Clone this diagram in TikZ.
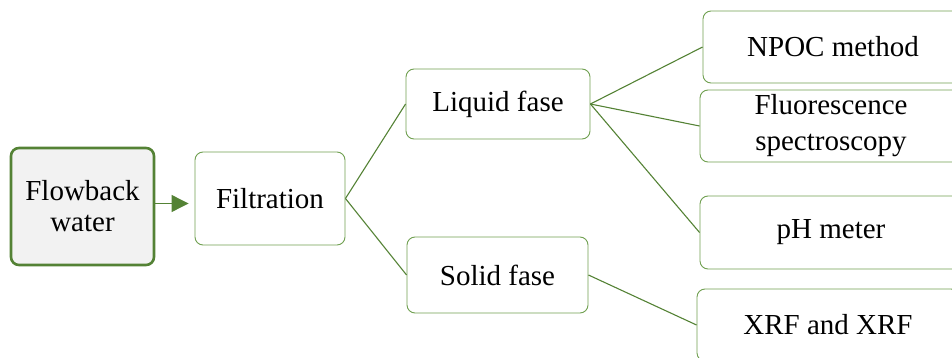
\documentclass[tikz,border=0pt]{standalone}
\usepackage{fontspec}
\setmainfont{Liberation Serif}
\usetikzlibrary{arrows.meta}
\definecolor{gdark}{HTML}{548235}
\definecolor{gbox}{HTML}{70A050}
\definecolor{gfill}{HTML}{F2F2F2}
\begin{document}
\begin{tikzpicture}[x=1pt,y=-1pt,
  box/.style={draw=gbox, line width=0.9pt, rounded corners=8pt, fill=white,
    align=center, inner sep=0pt, font=\rmfamily\fontsize{29}{34}\selectfont},
  startbox/.style={box, draw=gdark, line width=2.6pt, fill=gfill},
  conn/.style={draw=gdark, line width=1.1pt}]
\useasboundingbox (0,0) rectangle (952,358);
\node[startbox, minimum width=143pt, minimum height=117pt, font=\rmfamily\fontsize{29}{31}\selectfont] (flow) at (82.5,206.5) {Flowback\\water};
\node[box, minimum width=150pt, minimum height=93pt] (filt) at (270,198.5) {Filtration};
\node[box, minimum width=184pt, minimum height=70pt] (liq) at (498,104) {Liquid fase};
\node[box, minimum width=181pt, minimum height=76pt] (sol) at (497.5,275) {Solid fase};
\node[box, minimum width=260pt, minimum height=72pt] (npoc) at (833,47) {NPOC method};
\node[box, minimum width=262pt, minimum height=72pt, font=\rmfamily\fontsize{29}{36}\selectfont] (fluo) at (831,126) {Fluorescence\\spectroscopy};
\node[box, minimum width=262pt, minimum height=73pt] (ph) at (831,232.5) {pH meter};
\node[box, minimum width=262pt, minimum height=72pt] (xrf) at (828,325) {XRF and XRF};
\draw[conn, -{Triangle[length=17pt,width=17pt]}] (flow.east) ++(0,-3) coordinate (a) -- ([xshift=-6pt]a -| filt.west);
\draw[conn] (filt.east) -- (liq.west);
\draw[conn] (filt.east) -- (sol.west);
\draw[conn] (liq.east) -- (npoc.west);
\draw[conn] (liq.east) -- (fluo.west);
\draw[conn] (liq.east) -- (ph.west);
\draw[conn] (sol.east) -- (xrf.west);
\end{tikzpicture}
\end{document}
